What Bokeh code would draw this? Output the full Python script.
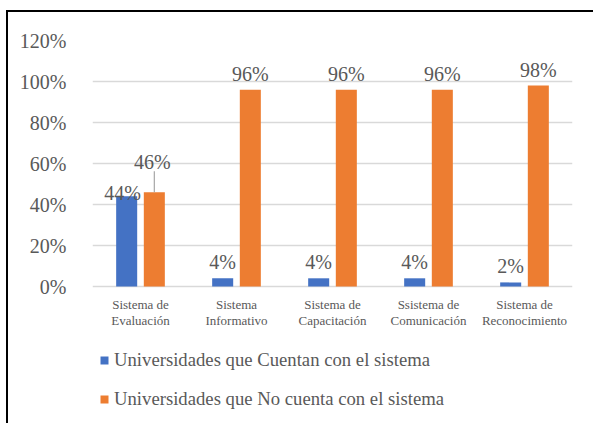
from bokeh.plotting import figure
from bokeh.models import (FactorRange, Range1d, ColumnDataSource, NumeralTickFormatter, Legend,
                          LegendItem, FixedTicker, GlobalInlineStyleSheet)
from bokeh.transform import dodge
from bokeh.embed import file_html
from bokeh.resources import INLINE
from bokeh.core.properties import value

# ---- data ----
categories = ["Sistema de Evaluación", "Sistema Informativo", "Sistema de Capacitación",
              "Ssistema de Comunicación", "Sistema de Reconocimiento"]
cat_line1 = ["Sistema de", "Sistema", "Sistema de", "Ssistema de", "Sistema de"]
cat_line2 = ["Evaluación", "Informativo", "Capacitación", "Comunicación", "Reconocimiento"]
cuentan = [0.44, 0.04, 0.04, 0.04, 0.02]
no_cuentan = [0.46, 0.96, 0.96, 0.96, 0.98]
cuentan_labels = ["44%", "4%", "4%", "4%", "2%"]
no_cuentan_labels = ["46%", "96%", "96%", "96%", "98%"]
series_names = ["Universidades que Cuentan con el sistema",
                "Universidades que No cuenta con el sistema"]
y_ticks = [0, 0.2, 0.4, 0.6, 0.8, 1.0, 1.2]

# ---- styles ----
BLUE = "#4472C4"
ORANGE = "#ED7D31"
TXT = "#595959"
GRID = "#D9D9D9"
FONT = "Liberation Serif"

W, H = 585, 411
LEFT, TOP, RIGHT = 84, 28, 21
PX_PER_UNIT = 205.0          # 20% = 41 px
Y_MAX = 1.2
frame_h = H - TOP
y_min = Y_MAX - frame_h / PX_PER_UNIT   # frame extends below 0 to hold labels / legend

# label offsets (screen px)
blue_dx = [-4, 0, 0, 0, 0]
blue_dy = [-3, -16, -16, -16, -16]
orange_dx = [-2, 0, 0, 0, 0]
orange_dy = [-30, -16, -16, -16, -16]

src = ColumnDataSource(dict(
    cat=categories, cuentan=cuentan, no_cuentan=no_cuentan,
    cl=cuentan_labels, nl=no_cuentan_labels,
    bdx=blue_dx, bdy=blue_dy, odx=orange_dx, ody=orange_dy,
    l1=cat_line1, l2=cat_line2, zero=[0] * len(categories),
))

page_css = GlobalInlineStyleSheet(css=(
    "html { overflow: hidden; } "
    "body { margin: 10px 0 0 6px !important; padding: 0 !important; "
    "border-left: 2px solid black; border-top: 2px solid black; overflow: hidden; }"))

p = figure(width=W, height=H, x_range=FactorRange(*categories), y_range=Range1d(y_min, Y_MAX),
           output_backend="svg", toolbar_location=None,
           min_border_left=LEFT, min_border_right=RIGHT, min_border_top=TOP, min_border_bottom=0,
           stylesheets=[page_css])
p.outline_line_color = None
p.background_fill_color = "white"
p.border_fill_color = "white"

bw = 0.219
off = 0.144
r1 = p.vbar(x=dodge("cat", -off, range=p.x_range), top="cuentan", width=bw, bottom=0,
            source=src, fill_color=BLUE, line_color=None)
r2 = p.vbar(x=dodge("cat", off, range=p.x_range), top="no_cuentan", width=bw, bottom=0,
            source=src, fill_color=ORANGE, line_color=None)

p.text(x=dodge("cat", -off, range=p.x_range), y="cuentan", text="cl", source=src,
       x_offset="bdx", y_offset="bdy", text_align="center", text_baseline="alphabetic",
       text_font=value(FONT), text_font_size="20px", text_color=TXT)
p.text(x=dodge("cat", off, range=p.x_range), y="no_cuentan", text="nl", source=src,
       x_offset="odx", y_offset="ody", text_align="center", text_baseline="alphabetic",
       text_font=value(FONT), text_font_size="20px", text_color=TXT)

lead_src = ColumnDataSource(dict(
    x=[categories[0]], y0=[no_cuentan[0]], y1=[no_cuentan[0] + 21 / PX_PER_UNIT]))
p.segment(x0=dodge("x", off, range=p.x_range), x1=dodge("x", off, range=p.x_range),
          y0="y0", y1="y1", source=lead_src, line_color="#A6A6A6", line_width=1.2)

for col, dy in (("l1", 18), ("l2", 34)):
    p.text(x="cat", y="zero", text=col, source=src, y_offset=dy,
           text_align="center", text_baseline="alphabetic",
           text_font=value(FONT), text_font_size="13px", text_color=TXT)

p.xaxis.visible = False
p.yaxis.ticker = FixedTicker(ticks=y_ticks)
p.yaxis.formatter = NumeralTickFormatter(format="0%")
p.yaxis.axis_line_color = None
p.yaxis.major_tick_line_color = None
p.yaxis.minor_tick_line_color = None
p.yaxis.major_label_standoff = 20
p.yaxis.major_label_text_font = FONT
p.yaxis.major_label_text_font_size = "20px"
p.yaxis.major_label_text_color = TXT

p.xgrid.grid_line_color = None
p.ygrid.ticker = FixedTicker(ticks=y_ticks)
p.ygrid.grid_line_color = GRID
p.ygrid.grid_line_width = 1.5

legend = Legend(items=[LegendItem(label=series_names[0], renderers=[r1]),
                       LegendItem(label=series_names[1], renderers=[r2])],
                location=(7, 11), orientation="vertical",
                glyph_width=10, glyph_height=10, label_standoff=5,
                label_height=26, spacing=13, padding=0, margin=0,
                label_text_font=FONT, label_text_font_size="18.7px", label_text_color=TXT,
                border_line_color=None, background_fill_alpha=0)
p.add_layout(legend, "center")

open("out.html", "w").write(file_html(p, INLINE))
